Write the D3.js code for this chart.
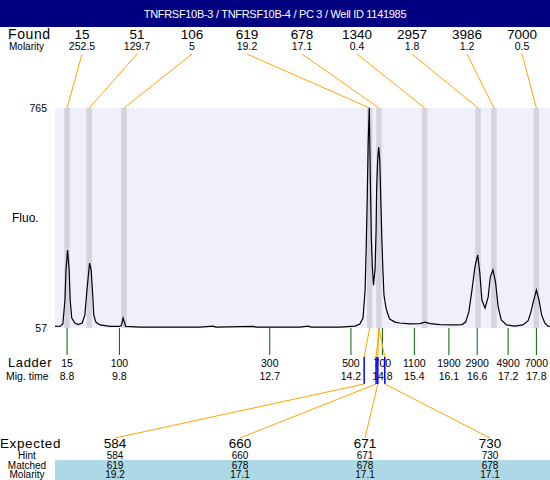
<!DOCTYPE html>
<html>
  <head>
    <meta charset="utf-8">
    <title></title>
    <script src="https://cdnjs.cloudflare.com/ajax/libs/d3/7.8.5/d3.min.js"></script>
    <style>
      body { margin: 0; background-color: white }
      svg { display: block; font-family: "Liberation Sans", Arial, sans-serif }
    </style>
  </head>
  <body>
    <div id="chart"></div>
  <script>

var title = "TNFRSF10B-3 / TNFRSF10B-4 / PC 3 / Well ID 1141985";

// found peaks
var foundSize = [15, 51, 106, 619, 678, 1340, 2957, 3986, 7000];
var foundMolarity = ["252.5", "129.7", "5", "19.2", "17.1", "0.4", "1.8", "1.2", "0.5"];

// ladder: size (bp) and migration time (s)
var ladderSize = [15, 100, 300, 500, 700, 1100, 1900, 2900, 4900, 7000];
var ladderTime = [8.80, 9.80, 12.67, 14.22, 14.82, 15.43, 16.09, 16.63, 17.22, 17.76];

// expected table
var expected = [584, 660, 671, 730];
var hint = [584, 660, 671, 730];
var matched = [619, 678, 678, 678];
var matchedMolarity = ["19.2", "17.1", "17.1", "17.1"];

var fluoTicks = [57, 765];

// electropherogram trace: [migration time, fluorescence]
var trace = [
  [8.57, 62], [8.67, 63], [8.72, 70], [8.76, 147], [8.78, 244], [8.81, 308],
  [8.84, 244], [8.86, 147], [8.89, 89], [8.95, 73], [9.01, 68], [9.09, 73],
  [9.14, 99], [9.18, 179], [9.23, 266], [9.26, 244], [9.29, 163], [9.31, 99],
  [9.35, 76], [9.43, 67], [9.62, 62], [9.81, 62], [9.84, 67], [9.87, 89],
  [9.90, 73], [9.92, 62], [10.19, 60], [11.34, 60], [11.59, 63], [11.64, 60],
  [12.35, 62], [12.41, 60], [13.25, 60], [13.40, 63], [13.46, 60], [14.01, 60],
  [14.30, 63], [14.39, 70], [14.45, 89], [14.49, 179], [14.51, 308], [14.53, 469],
  [14.55, 662], [14.57, 765], [14.59, 533], [14.61, 340], [14.63, 250], [14.65, 195],
  [14.68, 244], [14.70, 372], [14.71, 501], [14.73, 598], [14.75, 639], [14.77, 598],
  [14.79, 469], [14.81, 340], [14.83, 244], [14.85, 163], [14.89, 121], [14.93, 99],
  [14.96, 86], [15.06, 76], [15.15, 73], [15.34, 70], [15.54, 71], [15.63, 76],
  [15.73, 71], [15.92, 68], [16.20, 67], [16.34, 68], [16.41, 76], [16.47, 108],
  [16.53, 179], [16.59, 257], [16.64, 292], [16.68, 234], [16.72, 147], [16.78, 121],
  [16.84, 157], [16.88, 221], [16.93, 244], [16.98, 205], [17.03, 125], [17.09, 83],
  [17.19, 67], [17.35, 63], [17.50, 67], [17.60, 80], [17.65, 105], [17.71, 147],
  [17.76, 179], [17.81, 147], [17.86, 99], [17.92, 73], [17.98, 63], [18.02, 62]
];

var W = 550, H = 480;
var plot = {left: 55, right: 550, top: 108, bottom: 328};

var svg = d3.select("#chart").append("svg")
    .attr("width", W)
    .attr("height", H);

var x = d3.scaleLinear().domain([8.57, 18.02]).range([plot.left, plot.right]);
var y = d3.scaleLinear().domain([57, 765]).range([plot.bottom, plot.top]);
// size -> migration time through the ladder (piecewise linear)
var sizeToTime = d3.scaleLinear().domain(ladderSize).range(ladderTime);
var foundX = d3.scaleLinear().domain([0, foundSize.length - 1]).range([82, 522]);
var expX = d3.scaleLinear().domain([0, expected.length - 1]).range([115, 490]);

var orange = "#ffa500";

// header
svg.append("rect").attr("width", W).attr("height", 27).attr("fill", "#000080");
svg.append("text")
    .attr("x", W / 2).attr("y", 18)
    .attr("text-anchor", "middle")
    .attr("fill", "white")
    .style("font-size", "11px")
    .style("letter-spacing", "-0.3px")
    .text(title);

// found row
svg.append("text").attr("x", 8).attr("y", 39).style("font-size", "14px")
    .style("letter-spacing", "0.6px").text("Found");
svg.append("text").attr("x", 9).attr("y", 50).style("font-size", "10px").text("Molarity");

svg.selectAll(".found").data(foundSize).enter().append("text")
    .attr("x", function(d, i){ return foundX(i) })
    .attr("y", 39)
    .attr("text-anchor", "middle")
    .style("font-size", "13.5px")
    .text(function(d){ return d });
svg.selectAll(".fmol").data(foundMolarity).enter().append("text")
    .attr("x", function(d, i){ return foundX(i) })
    .attr("y", 50)
    .attr("text-anchor", "middle")
    .style("font-size", "10.5px")
    .text(function(d){ return d });

// plot background and peak bands
svg.append("rect")
    .attr("x", plot.left).attr("y", plot.top)
    .attr("width", plot.right - plot.left).attr("height", plot.bottom - plot.top)
    .attr("fill", "#f0f0fc");

svg.selectAll(".band").data(foundSize).enter().append("rect")
    .attr("x", function(d){ return x(sizeToTime(d)) - 2.75 })
    .attr("y", plot.top)
    .attr("width", 5.5)
    .attr("height", plot.bottom - plot.top)
    .attr("fill", "#d4d4e0");

svg.selectAll(".flink").data(foundSize).enter().append("line")
    .attr("x1", function(d, i){ return foundX(i) })
    .attr("y1", 54)
    .attr("x2", function(d){ return x(sizeToTime(d)) })
    .attr("y2", plot.top)
    .attr("stroke", orange);

// trace
svg.append("clipPath").attr("id", "clip").append("rect")
    .attr("x", plot.left).attr("y", plot.top - 1)
    .attr("width", plot.right - plot.left).attr("height", plot.bottom - plot.top + 1);

var line = d3.line()
    .x(function(d){ return x(d[0]) })
    .y(function(d){ return y(d[1]) });

svg.append("path")
    .datum(trace)
    .attr("d", line)
    .attr("clip-path", "url(#clip)")
    .attr("fill", "none")
    .attr("stroke", "black")
    .attr("stroke-width", 1.2);

// y labels
svg.selectAll(".ytick").data(fluoTicks).enter().append("text")
    .attr("x", 47)
    .attr("y", function(d){ return y(d) + 4 })
    .attr("text-anchor", "end")
    .style("font-size", "10.5px")
    .text(function(d){ return d });
svg.append("text").attr("x", 12).attr("y", 222).style("font-size", "12px").text("Fluo.");

// ladder
svg.selectAll(".lad").data(ladderTime).enter().append("line")
    .attr("x1", function(d){ return x(d) }).attr("x2", function(d){ return x(d) })
    .attr("y1", plot.bottom).attr("y2", 355)
    .attr("stroke", "#006400");

svg.append("text").attr("x", 8).attr("y", 367).style("font-size", "13px")
    .style("letter-spacing", "0.6px").text("Ladder");
svg.append("text").attr("x", 6).attr("y", 380).style("font-size", "10.5px").text("Mig. time");

svg.selectAll(".ladsize").data(ladderSize).enter().append("text")
    .attr("x", function(d, i){ return x(ladderTime[i]) })
    .attr("y", 367)
    .attr("text-anchor", "middle")
    .style("font-size", "10.5px")
    .text(function(d){ return d });
svg.selectAll(".ladtime").data(ladderTime).enter().append("text")
    .attr("x", function(d){ return x(d) })
    .attr("y", 380)
    .attr("text-anchor", "middle")
    .style("font-size", "10.5px")
    .text(function(d){ return d.toFixed(1) });

// expected -> matched links
svg.selectAll(".mlink").data(expected).enter().append("line")
    .attr("x1", function(d, i){ return x(sizeToTime(matched[i])) })
    .attr("y1", plot.bottom)
    .attr("x2", function(d){ return x(sizeToTime(d)) })
    .attr("y2", 357)
    .attr("stroke", orange);

svg.selectAll(".exp").data(expected).enter().append("line")
    .attr("x1", function(d){ return x(sizeToTime(d)) })
    .attr("x2", function(d){ return x(sizeToTime(d)) })
    .attr("y1", 357).attr("y2", 384)
    .attr("stroke", "blue")
    .attr("stroke-width", 1.5);

svg.selectAll(".elink").data(expected).enter().append("line")
    .attr("x1", function(d){ return x(sizeToTime(d)) })
    .attr("y1", 384)
    .attr("x2", function(d, i){ return expX(i) })
    .attr("y2", 438)
    .attr("stroke", orange);

// bottom table
svg.append("rect").attr("x", plot.left).attr("y", 460)
    .attr("width", W - plot.left).attr("height", 20).attr("fill", "#add8e6");

svg.append("text").attr("x", 0).attr("y", 448).style("font-size", "13.5px")
    .style("letter-spacing", "0.6px").text("Expected");
var rowLabels = [["Hint", 459], ["Matched", 469], ["Molarity", 478]];
rowLabels.forEach(function(r){
    svg.append("text").attr("x", 27).attr("y", r[1])
	.attr("text-anchor", "middle")
	.style("font-size", "10px")
	.text(r[0]);
});

var rows = [[expected, 448, "13.5px"], [hint, 459, "10px"], [matched, 469, "10px"], [matchedMolarity, 478, "10px"]];
rows.forEach(function(r){
    svg.selectAll(null).data(r[0]).enter().append("text")
	.attr("x", function(d, i){ return expX(i) })
	.attr("y", r[1])
	.attr("text-anchor", "middle")
	.style("font-size", r[2])
	.text(function(d){ return d });
});
  </script>
  </body>
</html>
